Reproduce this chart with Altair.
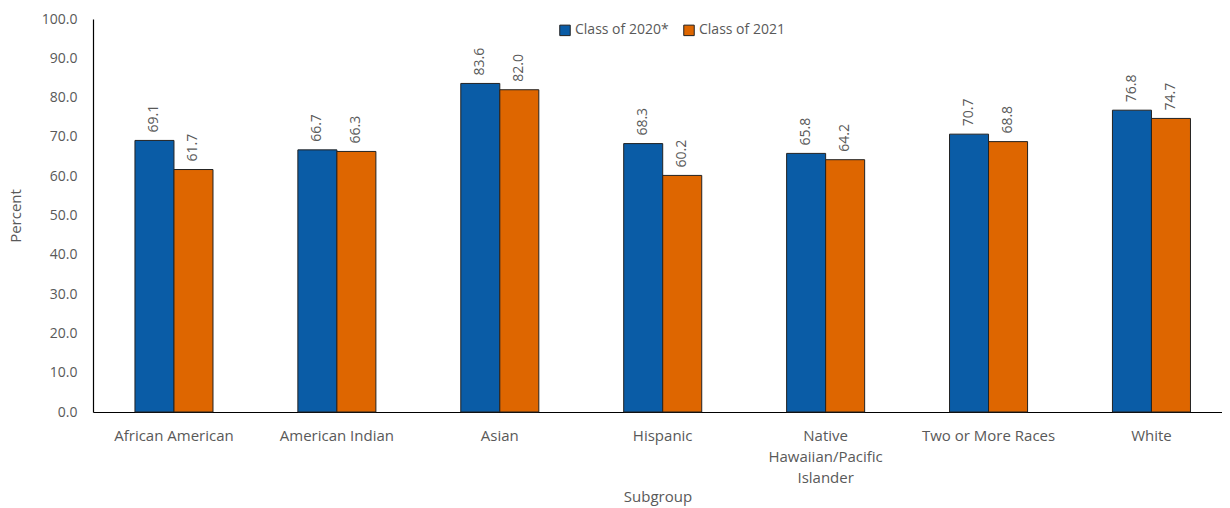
import altair as alt
import pandas as pd

categories = ["African American", "American Indian", "Asian", "Hispanic",
              "Native Hawaiian/Pacific Islander", "Two or More Races", "White"]
class_2020 = [69.1, 66.7, 83.6, 68.3, 65.8, 70.7, 76.8]
class_2021 = [61.7, 66.3, 82.0, 60.2, 64.2, 68.8, 74.7]
series = ["Class of 2020*", "Class of 2021"]
colors = ["#0A5CA6", "#DE6600"]

rows = []
for c, a, b in zip(categories, class_2020, class_2021):
    rows.append({"Subgroup": c, "Series": series[0], "Percent": a})
    rows.append({"Subgroup": c, "Series": series[1], "Percent": b})
df = pd.DataFrame(rows)

FONT = "Open Sans"
GRAY = "#595959"

x = alt.X("Subgroup:N", sort=categories,
          scale=alt.Scale(paddingInner=0.521, paddingOuter=0.2255, align=0.571),
          axis=alt.Axis(title="Subgroup", labelAngle=0, labelPadding=16, tickSize=0,
                        domainColor="#000000", domainWidth=1.2,
                        labelColor=GRAY, labelFontSize=15, labelFont=FONT,
                        titleColor=GRAY, titleFontSize=15, titleFont=FONT,
                        titleFontWeight="normal", titlePadding=4, labelLimit=200,
                        labelLineHeight=21,
                        labelExpr="datum.value == 'Native Hawaiian/Pacific Islander' ? ['Native','Hawaiian/Pacific','Islander'] : datum.value"))
y = alt.Y("Percent:Q", scale=alt.Scale(domain=[0, 100], nice=False),
          axis=alt.Axis(title="Percent", values=list(range(0, 101, 10)), format=".1f",
                        grid=False, tickSize=0, labelPadding=16,
                        domainColor="#000000", domainWidth=1.2,
                        labelColor=GRAY, labelFontSize=14, labelFont=FONT,
                        titleColor=GRAY, titleFontSize=15, titleFont=FONT,
                        titleFontWeight="normal", titlePadding=18))

base = alt.Chart(df).encode(
    x=x,
    xOffset=alt.XOffset("Series:N", sort=series),
    y=y,
)

bars = base.mark_bar(stroke="#222222", strokeWidth=1).encode(
    color=alt.Color("Series:N", sort=series,
                    scale=alt.Scale(domain=series, range=colors),
                    legend=alt.Legend(title=None, orient="none", direction="horizontal",
                                      legendX=465, legendY=4, symbolType="square",
                                      symbolSize=110, symbolStrokeColor="#222222",
                                      symbolStrokeWidth=1, labelFontSize=14,
                                      labelFont=FONT, labelColor=GRAY,
                                      columnPadding=12, labelOffset=3))
)

labels = base.mark_text(angle=270, align="left", baseline="middle", dx=8,
                        fontSize=14, font=FONT, color=GRAY).encode(
    text=alt.Text("Percent:Q", format=".1f")
)

chart = (bars + labels).properties(
    width=1129, height=393,
    autosize=alt.AutoSizeParams(type="none"),
    padding={"left": 85, "top": 11, "right": 0, "bottom": 96},
    background="white",
).configure_view(stroke=None)

chart.save("out.html", embed_options={"renderer": "svg", "actions": False})
